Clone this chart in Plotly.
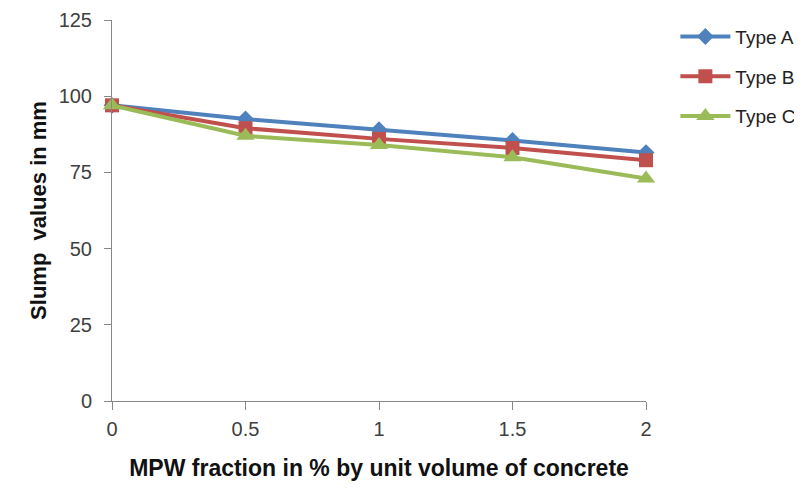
import plotly.graph_objects as go

x_vals = [0, 0.5, 1, 1.5, 2]
type_a = [97, 92.5, 89, 85.5, 81.5]
type_b = [97, 89.5, 86, 83, 79]
type_c = [97, 87, 84, 80, 73]
y_ticks = [0, 25, 50, 75, 100, 125]
x_ticks = [0, 0.5, 1, 1.5, 2]

series = [
    ("Type A", type_a, "#4F81BD", "diamond", 13),
    ("Type B", type_b, "#C0504D", "square", 14),
    ("Type C", type_c, "#9BBB59", "triangle-up", 16),
]

fig = go.Figure()
for name, vals, color, sym, size in series:
    fig.add_trace(go.Scatter(
        x=x_vals, y=vals, name=name, mode="lines+markers",
        legendgroup=name,
        line=dict(color=color, width=4),
        marker=dict(symbol=sym, size=size, color=color),
    ))

font_family = "Liberation Sans, Arial, sans-serif"
fig.update_layout(
    width=802, height=489,
    margin=dict(l=104, r=164, t=12, b=96, autoexpand=False),
    paper_bgcolor="white", plot_bgcolor="white",
    font=dict(family=font_family, size=20, color="#404040"),
    showlegend=True,
    legend=dict(x=1.055, y=1.006, xanchor="left", yanchor="top",
                font=dict(size=19, color="#222222"),
                tracegroupgap=12, itemwidth=50),
    xaxis=dict(
        range=[0, 2], tickvals=x_ticks, ticktext=["0", "0.5", "1", "1.5", "2"],
        showgrid=False, zeroline=False, showline=True, linecolor="#888888",
        ticks="outside", ticklen=8, tickcolor="#888888", ticklabelstandoff=2,
        automargin=False,
        title=dict(text="<b>MPW fraction in % by unit volume of concrete</b>",
                   font=dict(size=23, color="#111111"), standoff=20),
    ),
    yaxis=dict(
        range=[0, 125], tickvals=y_ticks,
        showgrid=False, zeroline=False, showline=True, linecolor="#888888",
        ticks="outside", ticklen=7, tickcolor="#888888", ticklabelstandoff=8,
        automargin=False,
        title=dict(text="<b>Slump  values in mm</b>",
                   font=dict(size=22, color="#111111"), standoff=5),
    ),
)
fig.update_traces(cliponaxis=False)

fig.write_html("out.html")
